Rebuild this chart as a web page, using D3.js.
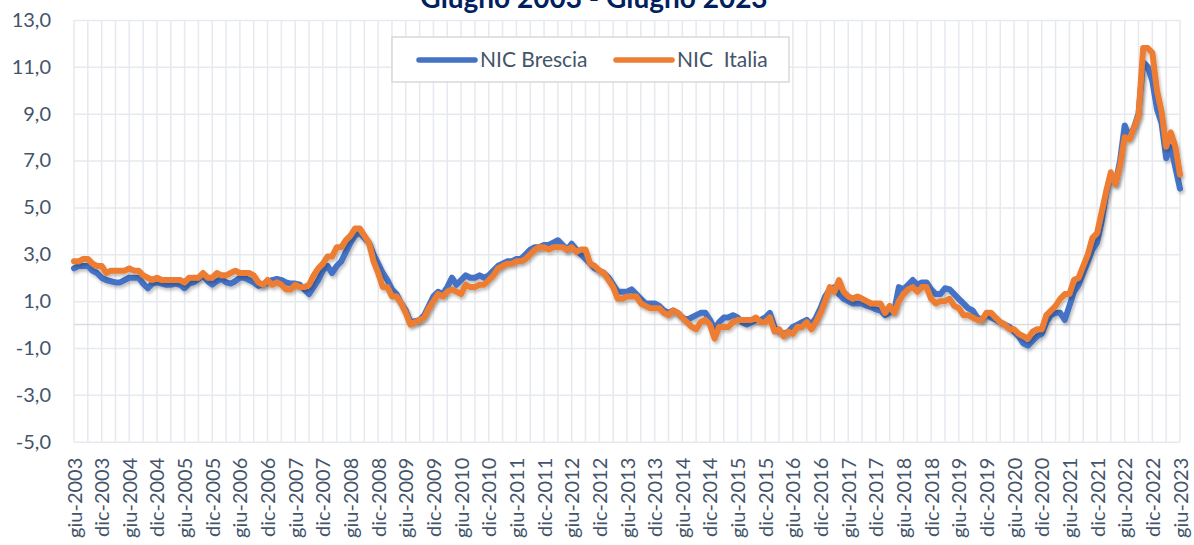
<!DOCTYPE html>
<html>
<head>
<meta charset="utf-8">
<script src="https://cdn.jsdelivr.net/npm/d3@7"></script>
<style>
  body { margin: 0; background: #fff; }
  svg text { font-family: Lato, "Open Sans", sans-serif; }
</style>
</head>
<body>
<div id="chart"></div>
<script>
// categories: monthly, giu-2003 .. giu-2023
const monthNames = ["gen", "feb", "mar", "apr", "mag", "giu", "lug", "ago", "set", "ott", "nov", "dic"];
const startYear = 2003, startMonth = 5; // giugno
const nMonths = 241;

const title = "Giugno 2003 - Giugno 2023";
const seriesNames = ["NIC Brescia", "NIC  Italia"];

// y ticks
const yTicks = [-5, -3, -1, 1, 3, 5, 7, 9, 11, 13];

// NIC Brescia, variazioni tendenziali %
const brescia = [
  2.4, 2.5, 2.5, 2.5, 2.3, 2.2, 2.0,
  1.9, 1.85, 1.8, 1.8, 1.9, 2.0, 2.0, 2.0, 1.75, 1.55, 1.75, 1.8,
  1.75, 1.7, 1.7, 1.75, 1.7, 1.55, 1.75, 1.8, 1.95, 2.1, 1.85, 1.7,
  1.85, 1.95, 1.8, 1.75, 1.85, 2.0, 2.0, 1.9, 1.8, 1.65, 1.7, 1.8,
  1.9, 1.95, 1.9, 1.8, 1.75, 1.75, 1.7, 1.5, 1.3, 1.6, 1.9, 2.3,
  2.5, 2.2, 2.5, 2.7, 3.1, 3.5, 3.8, 3.9, 3.7, 3.5, 3.0, 2.6,
  2.2, 1.9, 1.5, 1.3, 0.9, 0.6, 0.1, 0.15, 0.2, 0.4, 0.8, 1.2,
  1.4, 1.3, 1.6, 2.0, 1.7, 1.9, 2.1, 2.0, 2.0, 2.1, 2.0, 2.1,
  2.3, 2.5, 2.6, 2.7, 2.7, 2.8, 2.8, 3.0, 3.2, 3.3, 3.3, 3.4,
  3.4, 3.5, 3.6, 3.4, 3.2, 3.45, 3.2, 3.0, 2.8, 2.6, 2.4, 2.3,
  2.2, 2.0, 1.7, 1.4, 1.4, 1.4, 1.5, 1.3, 1.1, 0.9, 0.9, 0.9,
  0.8, 0.6, 0.5, 0.6, 0.5, 0.3, 0.2, 0.3, 0.4, 0.5, 0.5, 0.2,
  -0.2, 0.1, 0.3, 0.3, 0.4, 0.3, 0.1, 0.0, 0.1, 0.2, 0.2, 0.3,
  0.5, -0.1, -0.3, -0.4, -0.3, -0.1, 0.0, 0.1, 0.2, 0.0, 0.3, 0.7,
  1.2, 1.5, 1.6, 1.3, 1.1, 1.0, 0.9, 0.9, 0.9, 0.8, 0.75, 0.65,
  0.6, 0.4, 0.5, 0.6, 1.6, 1.5, 1.7, 1.9, 1.7, 1.8, 1.8, 1.5,
  1.3, 1.3, 1.55, 1.5, 1.3, 1.1, 0.9, 0.7, 0.6, 0.3, 0.2, 0.4,
  0.3, 0.2, 0.1, 0.0, -0.1, -0.3, -0.5, -0.8, -0.9, -0.7, -0.5, -0.4,
  0.1, 0.4, 0.5, 0.5, 0.2, 0.8, 1.4, 1.7, 2.2, 2.7, 3.2, 3.5,
  4.4, 5.6, 6.4, 6.0, 7.0, 8.5, 8.0, 8.4, 9.0, 11.2, 11.0, 10.4,
  9.2, 8.6, 7.1, 7.6, 6.7, 5.8
];

// NIC Italia, variazioni tendenziali %
const italia = [
  2.7, 2.7, 2.8, 2.8, 2.6, 2.5, 2.5,
  2.2, 2.3, 2.3, 2.3, 2.3, 2.4, 2.3, 2.3, 2.1, 2.0, 1.9, 2.0,
  1.9, 1.9, 1.9, 1.9, 1.9, 1.8, 2.0, 2.0, 2.0, 2.2, 2.0, 2.0,
  2.2, 2.1, 2.1, 2.2, 2.3, 2.2, 2.2, 2.2, 2.1, 1.8, 1.7, 1.9,
  1.7, 1.8, 1.7, 1.5, 1.5, 1.7, 1.6, 1.6, 1.7, 2.1, 2.4, 2.6,
  2.9, 2.9, 3.3, 3.3, 3.6, 3.8, 4.1, 4.1, 3.8, 3.5, 2.7, 2.2,
  1.6, 1.6, 1.2, 1.2, 0.9, 0.5, 0.0, 0.1, 0.2, 0.3, 0.7, 1.0,
  1.3, 1.2, 1.4, 1.5, 1.4, 1.3, 1.7, 1.6, 1.6, 1.7, 1.7, 1.9,
  2.1, 2.4, 2.5, 2.6, 2.6, 2.7, 2.7, 2.8, 3.0, 3.2, 3.3, 3.3,
  3.2, 3.3, 3.3, 3.3, 3.2, 3.3, 3.1, 3.2, 3.2, 2.6, 2.5, 2.3,
  2.2, 1.9, 1.6, 1.1, 1.1, 1.2, 1.2, 1.2, 0.9, 0.8, 0.7, 0.7,
  0.7, 0.5, 0.4, 0.6, 0.5, 0.3, 0.1, -0.1, -0.2, 0.1, 0.2, 0.0,
  -0.6, -0.1, -0.1, -0.1, 0.1, 0.2, 0.2, 0.2, 0.2, 0.3, 0.1, 0.1,
  0.3, -0.3, -0.2, -0.5, -0.3, -0.4, -0.1, -0.1, 0.1, -0.2, 0.1, 0.5,
  1.0, 1.6, 1.4, 1.9, 1.4, 1.2, 1.1, 1.2, 1.1, 1.0, 0.9, 0.9,
  0.9, 0.5, 0.8, 0.5, 1.0, 1.3, 1.5, 1.6, 1.4, 1.6, 1.6, 1.1,
  0.9, 1.0, 1.0, 1.1, 0.8, 0.7, 0.4, 0.4, 0.3, 0.2, 0.2, 0.5,
  0.5, 0.3, 0.1, 0.0, -0.2, -0.2, -0.4, -0.5, -0.6, -0.3, -0.2, -0.2,
  0.4, 0.6, 0.8, 1.1, 1.3, 1.3, 1.9, 2.0, 2.5, 3.0, 3.7, 3.9,
  4.8, 5.7, 6.5, 6.0, 6.8, 8.0, 7.9, 8.4, 8.9, 11.8, 11.8, 11.6,
  10.0, 9.1, 7.6, 8.2, 7.6, 6.4
];

const colors = ["#4472C4", "#ED7D31"];
const textColor = "#44546A";
const gridColor = "#E6E9EE";

const W = 1194, H = 545;
const plotL = 74, plotR = 1180, plotT = 20, plotB = 441.7;

const monthLabel = i => {
  const m = (startMonth + i) % 12;
  const yr = startYear + Math.floor((startMonth + i) / 12);
  return monthNames[m] + "-" + yr;
};

const svg = d3.select("#chart").append("svg")
  .attr("width", W)
  .attr("height", H);

const defs = svg.append("defs");
const f = defs.append("filter").attr("id", "shadow")
  .attr("x", "-5%").attr("y", "-5%").attr("width", "110%").attr("height", "110%");
f.append("feDropShadow")
  .attr("dx", 1.5).attr("dy", 2.5).attr("stdDeviation", 1.5)
  .attr("flood-color", "#000").attr("flood-opacity", 0.25);

const x = d3.scaleLinear().domain([0, nMonths - 1]).range([plotL, plotR]);
const y = d3.scaleLinear().domain([-5, 13]).range([plotB, plotT]);

// vertical grid, every 3 months
svg.append("g")
  .selectAll("line")
  .data(d3.range(0, nMonths, 3))
  .join("line")
  .attr("x1", d => x(d)).attr("x2", d => x(d))
  .attr("y1", plotT).attr("y2", plotB)
  .attr("stroke", gridColor).attr("stroke-width", 1.5);

// horizontal grid + y labels
const yAxis = svg.append("g")
  .attr("transform", `translate(${plotL},0)`)
  .call(d3.axisLeft(y)
    .tickValues(yTicks)
    .tickSize(-(plotR - plotL))
    .tickPadding(23)
    .tickFormat(d => d.toFixed(1).replace(".", ",")));
yAxis.select(".domain").remove();
yAxis.selectAll(".tick line").attr("stroke", gridColor).attr("stroke-width", 1.5);
yAxis.selectAll(".tick text")
  .attr("fill", textColor)
  .style("font-size", "20px");

// zero line
svg.append("line")
  .attr("x1", plotL).attr("x2", plotR)
  .attr("y1", y(0)).attr("y2", y(0))
  .attr("stroke", "#D9DCE1").attr("stroke-width", 1.5);

// x labels
const xAxis = svg.append("g")
  .attr("transform", `translate(0,${plotB})`)
  .call(d3.axisBottom(x)
    .tickValues(d3.range(0, nMonths, 6))
    .tickSize(0)
    .tickFormat(monthLabel));
xAxis.select(".domain").remove();
xAxis.selectAll(".tick text")
  .attr("transform", "rotate(-90)")
  .attr("text-anchor", "end")
  .attr("x", -16)
  .attr("y", 0)
  .attr("dy", "0.35em")
  .attr("fill", textColor)
  .style("font-size", "20px");

// lines
const line = d3.line()
  .x((d, i) => x(i))
  .y(d => y(d));

[brescia, italia].forEach((s, k) => {
  svg.append("path")
    .datum(s)
    .attr("fill", "none")
    .attr("stroke", colors[k])
    .attr("stroke-width", 6)
    .attr("stroke-linejoin", "round")
    .attr("stroke-linecap", "round")
    .attr("filter", "url(#shadow)")
    .attr("d", line);
});

// title (partly cut off at the top, as in the original)
svg.append("text")
  .attr("x", 594)
  .attr("y", 8)
  .attr("text-anchor", "middle")
  .attr("fill", "#002060")
  .style("font-size", "28px")
  .style("font-weight", "bold")
  .text(title);

// legend
const lg = svg.append("g");
lg.append("rect")
  .attr("x", 392).attr("y", 37)
  .attr("width", 397).attr("height", 45)
  .attr("fill", "#fff")
  .attr("stroke", "#D9D9D9").attr("stroke-width", 1.5);

const legendX = [419, 616];
seriesNames.forEach((name, k) => {
  lg.append("line")
    .attr("x1", legendX[k]).attr("x2", legendX[k] + 56)
    .attr("y1", 60).attr("y2", 60)
    .attr("stroke", colors[k])
    .attr("stroke-width", 5.5)
    .attr("stroke-linecap", "round");
  lg.append("text")
    .attr("x", legendX[k] + 61)
    .attr("y", 67)
    .attr("fill", textColor)
    .style("font-size", "21px")
    .style("white-space", "pre")
    .text(name);
});
</script>
</body>
</html>
